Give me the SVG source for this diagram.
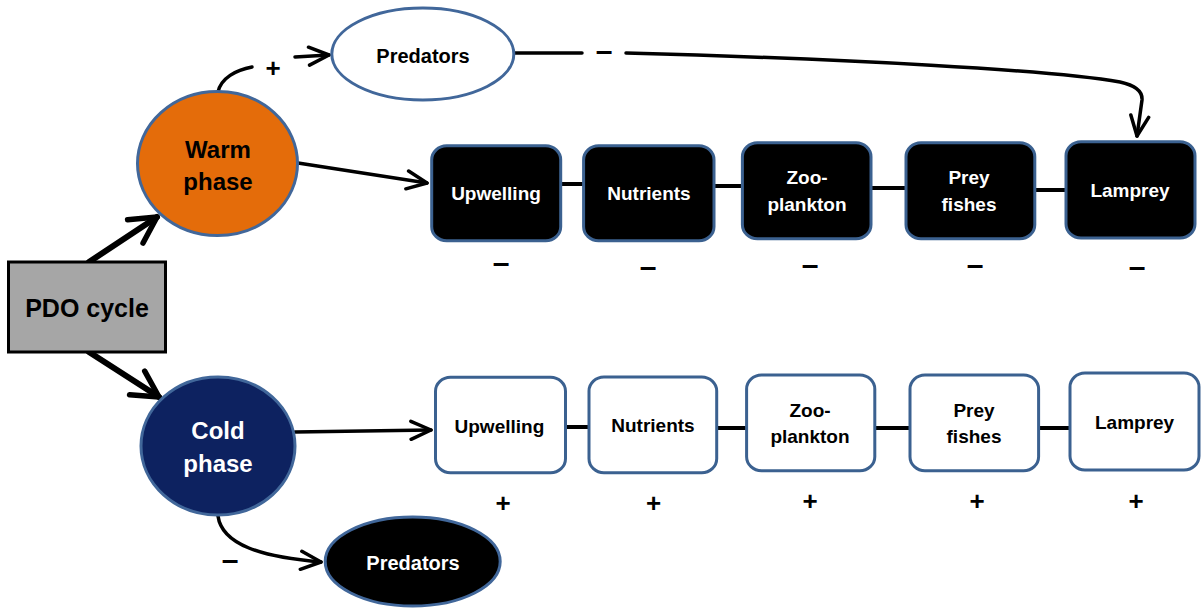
<svg xmlns="http://www.w3.org/2000/svg" width="1202" height="611" viewBox="0 0 1202 611">
<style>
  text { font-family: "Liberation Sans", Arial, sans-serif; font-weight: bold; text-anchor: middle; }
  .lbl { font-size: 19px; }
  .blk-box { fill: #000000; stroke: #3b6190; stroke-width: 3; }
  .wht-box { fill: #ffffff; stroke: #3b6190; stroke-width: 3; }
  .wt { fill: #ffffff; }
  .bt { fill: #000000; }
  .link { stroke: #000; stroke-width: 4; fill: none; }
  .arr { stroke: #000; stroke-width: 3.5; fill: none; stroke-linecap: round; }
  .big { stroke: #000; stroke-width: 6; fill: none; stroke-linecap: round; }
  .sign { font-size: 26px; fill: #000; }
  .minus { font-size: 30px; fill: #000; }
</style>
<defs>
  <marker id="ah" markerUnits="userSpaceOnUse" viewBox="0 0 26 22" markerWidth="26" markerHeight="22" refX="23" refY="11" orient="auto">
    <path d="M3,2 L23,11 L3,20" fill="none" stroke="#000" stroke-width="3.5" stroke-linecap="round" stroke-linejoin="round"/>
  </marker>
  <marker id="ahBig" markerUnits="userSpaceOnUse" viewBox="0 0 34 34" markerWidth="34" markerHeight="34" refX="30" refY="17" orient="auto">
    <path d="M4,3 L30,17 L4,31" fill="none" stroke="#000" stroke-width="5.5" stroke-linecap="round" stroke-linejoin="round"/>
  </marker>
</defs>

<g id="connectors">
  <line class="big" x1="89" y1="262" x2="157" y2="217" marker-end="url(#ahBig)"/>
  <line class="big" x1="89" y1="352" x2="159" y2="397" marker-end="url(#ahBig)"/>
  <path class="arr" d="M218,92 C221,78 236,70 252,67"/>
  <line class="arr" x1="295" y1="57" x2="329" y2="55" marker-end="url(#ah)"/>
  <line class="arr" x1="298" y1="163" x2="427" y2="183" marker-end="url(#ah)"/>
  <line class="arr" x1="514" y1="53" x2="582" y2="53"/>
  <path class="arr" d="M626,53 C850,59 1050,70 1120,82 Q1143,87 1142,100 L1137,136" marker-end="url(#ah)"/>
  <line class="arr" x1="295" y1="432" x2="431" y2="430" marker-end="url(#ah)"/>
  <path class="arr" d="M218,516 C222,545 262,557 321,562" marker-end="url(#ah)"/>
  <line class="link" x1="560" y1="184" x2="584" y2="184"/>
  <line class="link" x1="714" y1="186" x2="743" y2="186"/>
  <line class="link" x1="871" y1="188" x2="906" y2="188"/>
  <line class="link" x1="1035" y1="190" x2="1066" y2="190"/>
  <line class="link" x1="565" y1="427" x2="589" y2="427"/>
  <line class="link" x1="716" y1="428" x2="747" y2="428"/>
  <line class="link" x1="875" y1="428" x2="910" y2="428"/>
  <line class="link" x1="1038" y1="428" x2="1070" y2="428"/>
  <text class="sign" x="273" y="77">+</text>
  <text class="minus" x="604" y="61">–</text>
  <text class="minus" x="230" y="570">–</text>
</g>

<g id="pdo">
  <rect x="8.5" y="262" width="157" height="90" fill="#a6a6a6" stroke="#000" stroke-width="3"/>
  <text x="87" y="317" style="font-size:25px">PDO cycle</text>
</g>

<g id="warm">
  <ellipse cx="217.5" cy="163.5" rx="80" ry="72" fill="#e46c0a" stroke="#41679a" stroke-width="3"/>
  <text class="bt" x="218" y="158" style="font-size:24px">Warm</text>
  <text class="bt" x="218" y="190" style="font-size:24px">phase</text>
</g>

<g id="cold">
  <ellipse cx="218" cy="446" rx="77" ry="69" fill="#0d2260" stroke="#41679a" stroke-width="3"/>
  <text class="wt" x="218" y="439" style="font-size:24px">Cold</text>
  <text class="wt" x="218" y="472" style="font-size:24px">phase</text>
</g>

<g id="predators-warm">
  <ellipse cx="422.8" cy="54" rx="91" ry="46" fill="#ffffff" stroke="#41679a" stroke-width="3"/>
  <text class="bt" x="423" y="63" style="font-size:20px">Predators</text>
</g>

<g id="predators-cold">
  <ellipse cx="412.7" cy="561.5" rx="87.5" ry="44.5" fill="#000000" stroke="#41679a" stroke-width="3"/>
  <text class="wt" x="413" y="570" style="font-size:20px">Predators</text>
</g>

<g id="warm-upwelling">
  <rect class="blk-box" x="431.7" y="145.7" width="129" height="95" rx="15" ry="14"/>
  <text class="lbl wt" x="496" y="200">Upwelling</text>
  <text class="minus" x="501" y="273">–</text>
</g>
<g id="warm-nutrients">
  <rect class="blk-box" x="583.6" y="145.7" width="130.4" height="95" rx="15" ry="14"/>
  <text class="lbl wt" x="649" y="200">Nutrients</text>
  <text class="minus" x="648" y="277">–</text>
</g>
<g id="warm-zooplankton">
  <rect class="blk-box" x="742.4" y="142.7" width="128.6" height="96" rx="15" ry="14"/>
  <text class="lbl wt" x="807" y="184">Zoo-</text>
  <text class="lbl wt" x="807" y="211">plankton</text>
  <text class="minus" x="810" y="275">–</text>
</g>
<g id="warm-preyfishes">
  <rect class="blk-box" x="906" y="142.7" width="128.8" height="96" rx="15" ry="14"/>
  <text class="lbl wt" x="969" y="184">Prey</text>
  <text class="lbl wt" x="969" y="211">fishes</text>
  <text class="minus" x="975" y="275">–</text>
</g>
<g id="warm-lamprey">
  <rect class="blk-box" x="1066" y="141.7" width="129" height="96.3" rx="15" ry="14"/>
  <text class="lbl wt" x="1130" y="197">Lamprey</text>
  <text class="minus" x="1137" y="277">–</text>
</g>

<g id="cold-upwelling">
  <rect class="wht-box" x="435.5" y="377.3" width="130" height="95.4" rx="15" ry="14"/>
  <text class="lbl bt" x="499.4" y="432.5">Upwelling</text>
  <text class="sign" x="503" y="512">+</text>
</g>
<g id="cold-nutrients">
  <rect class="wht-box" x="589" y="377" width="127.7" height="95.7" rx="15" ry="14"/>
  <text class="lbl bt" x="653" y="432">Nutrients</text>
  <text class="sign" x="653.6" y="512">+</text>
</g>
<g id="cold-zooplankton">
  <rect class="wht-box" x="746.6" y="375" width="128.2" height="95.7" rx="15" ry="14"/>
  <text class="lbl bt" x="810" y="416.5">Zoo-</text>
  <text class="lbl bt" x="810" y="443">plankton</text>
  <text class="sign" x="810" y="510">+</text>
</g>
<g id="cold-preyfishes">
  <rect class="wht-box" x="910" y="375" width="128.6" height="95.7" rx="15" ry="14"/>
  <text class="lbl bt" x="974" y="416.5">Prey</text>
  <text class="lbl bt" x="974" y="443">fishes</text>
  <text class="sign" x="977" y="510">+</text>
</g>
<g id="cold-lamprey">
  <rect class="wht-box" x="1070" y="373" width="129" height="97" rx="15" ry="14"/>
  <text class="lbl bt" x="1134.6" y="429">Lamprey</text>
  <text class="sign" x="1136" y="510">+</text>
</g>
</svg>
